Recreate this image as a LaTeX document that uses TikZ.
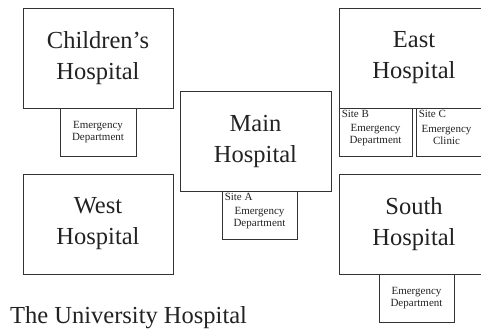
\documentclass[tikz,border=0pt]{standalone}
\usepackage{fontspec}
\setmainfont{Liberation Serif}
\definecolor{linegray}{HTML}{333333}
\definecolor{textgray}{HTML}{222222}
\begin{document}
\begin{tikzpicture}[x=1pt, y=-1pt,
  hosp/.style={draw=linegray, line width=0.9pt, minimum width=150pt, minimum height=100pt,
    inner sep=0pt, align=center, text=textgray, font=\fontsize{24.5}{31}\selectfont},
  edbox/.style={draw=linegray, line width=0.9pt, minimum width=75pt, minimum height=48pt,
    inner sep=0pt, align=center, text=textgray, font=\fontsize{11}{11.5}\selectfont},
  sitetag/.style={anchor=north west, inner xsep=3pt, inner ysep=2pt, text=textgray,
    font=\fontsize{11}{11.5}\selectfont},
  edtext/.style={align=center, inner sep=0pt, text=textgray, font=\fontsize{11}{11.5}\selectfont}]
  \useasboundingbox (0,0) rectangle (481,329);
  \clip (0,0) rectangle (481,329);

  % Children's hospital
  \node[hosp] (children) at (98,58) {Children’s\\Hospital};
  \node[edbox, minimum width=76pt] (childrenED) at (98,132) {Emergency\\Department};

  % West hospital
  \node[hosp] (west) at (98,224) {West\\Hospital};

  % Main hospital with site A
  \node[hosp, minimum width=151pt] (main) at (255.5,141) {Main\\Hospital};
  \node[edbox] (siteA) at (259.5,215) {};
  \node[sitetag] (siteAtag) at (siteA.north west) {Site A};
  \node[edtext] (siteAtext) at ([yshift=-3pt]siteA.center) {Emergency\\Department};

  % East hospital with sites B and C
  \node[hosp] (east) at (414,58) {East\\Hospital};
  \node[edbox, minimum width=73pt] (siteB) at (375.5,132) {};
  \node[sitetag] (siteBtag) at (siteB.north west) {Site B};
  \node[edtext] (siteBtext) at ([yshift=-3pt]siteB.center) {Emergency\\Department};
  \node[edbox, minimum width=73pt] (siteC) at (452.5,132) {};
  \node[sitetag] (siteCtag) at (siteC.north west) {Site C};
  \node[edtext] (siteCtext) at ([xshift=-6pt,yshift=-3pt]siteC.center) {Emergency\\Clinic};

  % South hospital
  \node[hosp] (south) at (414,224) {South\\Hospital};
  \node[edbox] (southED) at (416.5,298) {Emergency\\Department};

  % Title
  \node[anchor=base west, inner sep=0pt, text=textgray, font=\fontsize{24.5}{30}\selectfont]
    (title) at (10,323) {The University Hospital};
\end{tikzpicture}
\end{document}
